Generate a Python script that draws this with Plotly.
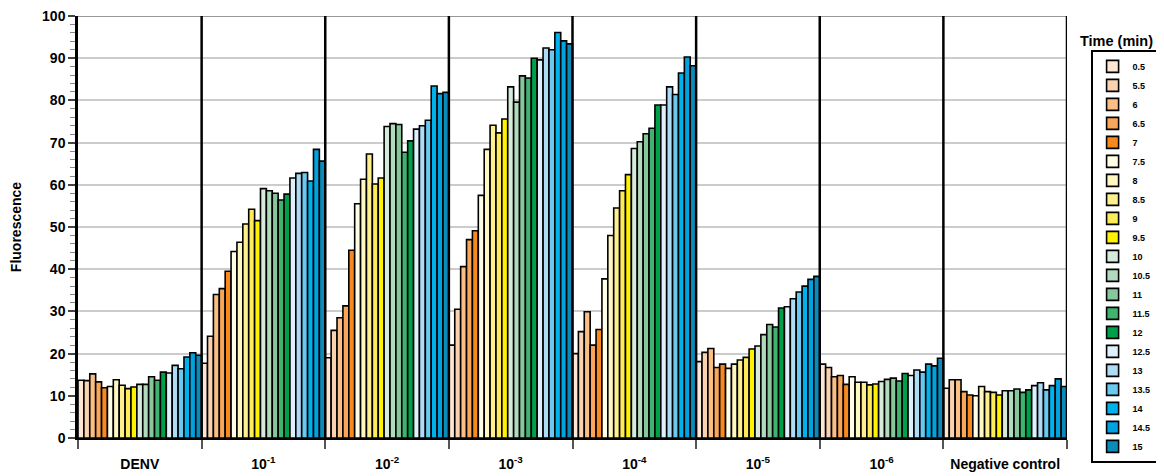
import plotly.graph_objects as go

groups = ["DENV", "10<sup>-1</sup>", "10<sup>-2</sup>", "10<sup>-3</sup>", "10<sup>-4</sup>",
          "10<sup>-5</sup>", "10<sup>-6</sup>", "Negative control"]
times = ["0.5", "5.5", "6", "6.5", "7", "7.5", "8", "8.5", "9", "9.5", "10", "10.5",
         "11", "11.5", "12", "12.5", "13", "13.5", "14", "14.5", "15"]
colors = ["#FDE6D4", "#FBD2B0", "#FBBF85", "#F9A65A", "#F7891E",
          "#FFFEE6", "#FFF8C0", "#FEF08F", "#FDEB5A", "#FFF200",
          "#D6EBDB", "#B2DBBD", "#88C79B", "#3FB36F", "#00A04B",
          "#DDF0FC", "#AEDCF5", "#69C9F0", "#00B2EB", "#00A3DF", "#0B8BBA"]

denv = [13.7, 13.6, 15.2, 13.3, 11.9, 12.2, 13.8, 12.5, 11.7, 12.1, 12.7, 12.7, 14.5, 13.7, 15.6, 15.4, 17.2, 16.4, 19.2, 20.2, 19.6]
dil1 = [17.7, 24.1, 34.0, 35.4, 39.5, 44.2, 46.4, 50.7, 54.2, 51.5, 59.1, 58.6, 58.0, 56.4, 57.8, 61.6, 62.7, 62.9, 60.9, 68.4, 65.6]
dil2 = [19.0, 25.5, 28.5, 31.3, 44.5, 55.5, 61.3, 67.3, 60.2, 61.6, 73.8, 74.5, 74.3, 67.7, 70.4, 73.2, 74.0, 75.3, 83.4, 81.6, 81.9]
dil3 = [22.0, 30.5, 40.6, 47.0, 49.1, 57.5, 68.4, 74.1, 72.3, 75.6, 83.2, 79.6, 85.8, 85.3, 90.0, 89.6, 92.4, 92.0, 96.1, 94.1, 93.4]
dil4 = [20.0, 25.2, 29.9, 22.0, 25.7, 37.7, 48.0, 54.5, 58.6, 62.4, 68.6, 70.2, 72.1, 73.4, 78.9, 78.9, 83.2, 81.4, 86.5, 90.3, 88.2]
dil5 = [18.1, 20.3, 21.2, 16.7, 17.5, 16.5, 17.5, 18.5, 19.1, 21.1, 21.8, 24.5, 26.9, 26.3, 30.8, 31.1, 33.0, 34.6, 36.0, 37.6, 38.3]
dil6 = [17.5, 16.7, 14.5, 14.8, 12.7, 14.5, 13.2, 13.2, 12.6, 12.8, 13.4, 13.9, 14.2, 13.5, 15.3, 14.8, 16.1, 15.6, 17.5, 17.1, 18.9]
neg = [11.8, 13.8, 13.8, 11.0, 10.2, 10.0, 12.2, 11.0, 10.8, 10.2, 11.2, 11.2, 11.6, 10.8, 11.4, 12.4, 13.1, 11.4, 12.4, 14.0, 12.2]

series = [denv, dil1, dil2, dil3, dil4, dil5, dil6, neg]

FONT = "Arial, Liberation Sans, sans-serif"
n = len(times)
ng = len(groups)

fig = go.Figure()
for i, t in enumerate(times):
    fig.add_trace(go.Bar(
        x=[g * n + i + 0.5 for g in range(ng)],
        y=[series[g][i] for g in range(ng)],
        width=1,
        name=t,
        marker=dict(color=colors[i], line=dict(color="black", width=1.6)),
        hoverinfo="y+name",
    ))

shapes = []
for g in range(1, ng + 1):
    shapes.append(dict(type="line", xref="x", yref="y", x0=g * n, x1=g * n, y0=0, y1=100,
                       line=dict(color="black", width=2.5), layer="above"))
shapes.append(dict(type="line", xref="x", yref="y", x0=0, x1=ng * n, y0=100, y1=100,
                   line=dict(color="#999999", width=2), layer="below"))

# the page body adds an 8px margin, so the figure is sized to fit the window
fig.update_layout(
    width=1156, height=468,
    margin=dict(l=70, r=97, t=8, b=38),
    paper_bgcolor="white", plot_bgcolor="white",
    barmode="overlay",
    font=dict(family=FONT, color="black"),
    shapes=shapes,
    showlegend=True,
    legend=dict(
        xref="container", yref="container",
        x=0.9365, xanchor="left", y=0.9105, yanchor="top",
        maxheight=450,
        bordercolor="black", borderwidth=2, bgcolor="white",
        font=dict(size=9, family=FONT, weight=700),
        itemwidth=30, tracegroupgap=0,
    ),
    annotations=[dict(text="<b>Time (min)</b>", xref="paper", yref="paper",
                      x=1.0505, y=0.94, xanchor="center", yanchor="middle",
                      showarrow=False, font=dict(size=14.5, family=FONT))],
    xaxis=dict(
        range=[0, ng * n],
        automargin=False,
        tickmode="array",
        tickvals=[g * n + n / 2 for g in range(ng)],
        ticktext=groups,
        ticks="",
        ticklabelstandoff=12,
        ticklabeloverflow="allow",
        tickfont=dict(size=14, family=FONT, weight=700),
        showgrid=False, zeroline=False,
        showline=True, linecolor="black", linewidth=2,
        minor=dict(tickmode="array", tickvals=[g * n for g in range(ng + 1)],
                   ticks="outside", ticklen=9, tickwidth=2, tickcolor="#555555",
                   showgrid=False),
    ),
    yaxis=dict(
        range=[0, 100],
        automargin=False,
        ticklabeloverflow="allow",
        tickmode="linear", tick0=0, dtick=10,
        ticks="outside", ticklen=7, tickwidth=1.5, tickcolor="#444444",
        tickfont=dict(size=14, family=FONT, weight=700),
        showgrid=True, gridcolor="#CCCCCC", gridwidth=1.5,
        zeroline=False,
        showline=True, linecolor="black", linewidth=2.5,
        title=dict(text="Fluorescence", font=dict(size=14, family=FONT, weight=700), standoff=24),
        minor=dict(dtick=2, ticks="outside", ticklen=5, tickwidth=1, tickcolor="#888888",
                   showgrid=False),
    ),
)

fig.write_html("out.html")
